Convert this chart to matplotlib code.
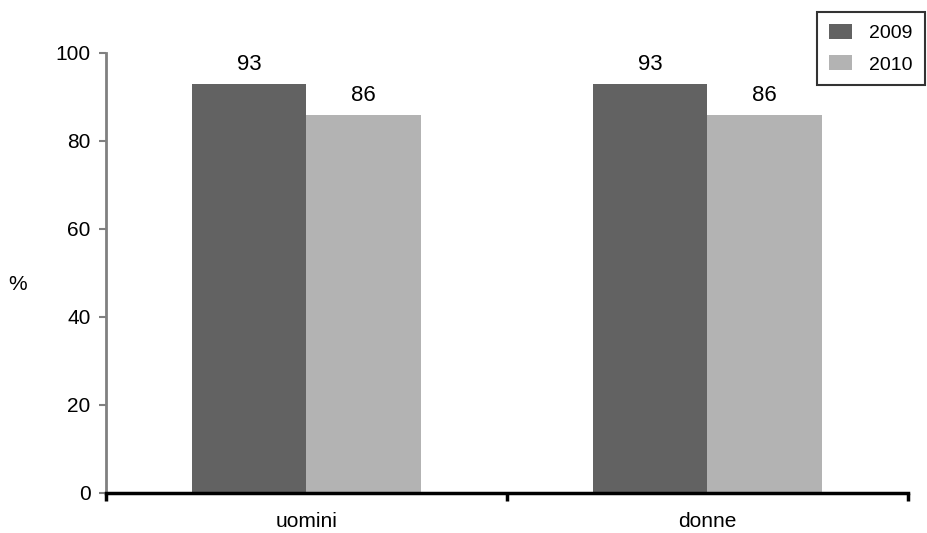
import numpy as np
import matplotlib.pyplot as plt

plt.rcParams['font.family'] = ['Liberation Sans', 'DejaVu Sans']

categorie = ['uomini', 'donne']
anni = ['2009', '2010']
valori_2009 = [93, 93]
valori_2010 = [86, 86]
colori = ['#626262', '#b3b3b3']

fig = plt.figure(figsize=(9.28, 5.33), dpi=100)
ax = fig.add_axes([106/928, 1 - 493/533, 802/928, 440/533])

x = np.arange(len(categorie)) + 0.5
w = 0.286
b1 = ax.bar(x - w/2, valori_2009, w, color=colori[0], label=anni[0])
b2 = ax.bar(x + w/2, valori_2010, w, color=colori[1], label=anni[1])

for bars in (b1, b2):
    for r in bars:
        ax.annotate('%d' % r.get_height(), (r.get_x() + r.get_width()/2, r.get_height()),
                    xytext=(0, 6), textcoords='offset points',
                    ha='center', va='bottom', fontsize=16)

ax.set_xlim(0, 2)
ax.set_ylim(0, 100)
ax.set_yticks(range(0, 101, 20))
ax.set_xticks([0, 1, 2])
ax.set_xticklabels([])
ax.set_xticks(x, minor=True)
ax.set_xticklabels(categorie, minor=True, fontsize=15)
ax.tick_params(axis='x', which='minor', length=0, pad=14)
ax.tick_params(axis='x', which='major', length=6, width=2.5, color='black', direction='out')
ax.tick_params(axis='y', length=5, width=1.5, color='#808080', labelsize=15, pad=6)

for s in ['top', 'right']:
    ax.spines[s].set_visible(False)
ax.spines['left'].set_color('#808080')
ax.spines['left'].set_linewidth(2)
ax.spines['bottom'].set_color('black')
ax.spines['bottom'].set_linewidth(2.5)

fig.text(18/928, 1 - 285/533, '%', fontsize=15, ha='center', va='center')

leg = fig.legend(loc='upper left', bbox_to_anchor=(817/928, 1 - 12/533), fontsize=14,
                 frameon=True, fancybox=False, handlelength=1.2, handleheight=0.8,
                 borderpad=0.6, labelspacing=0.7, handletextpad=0.9, borderaxespad=0)
leg.get_frame().set_edgecolor('black')
leg.get_frame().set_linewidth(1.5)

fig.savefig('out.png', dpi=100)
